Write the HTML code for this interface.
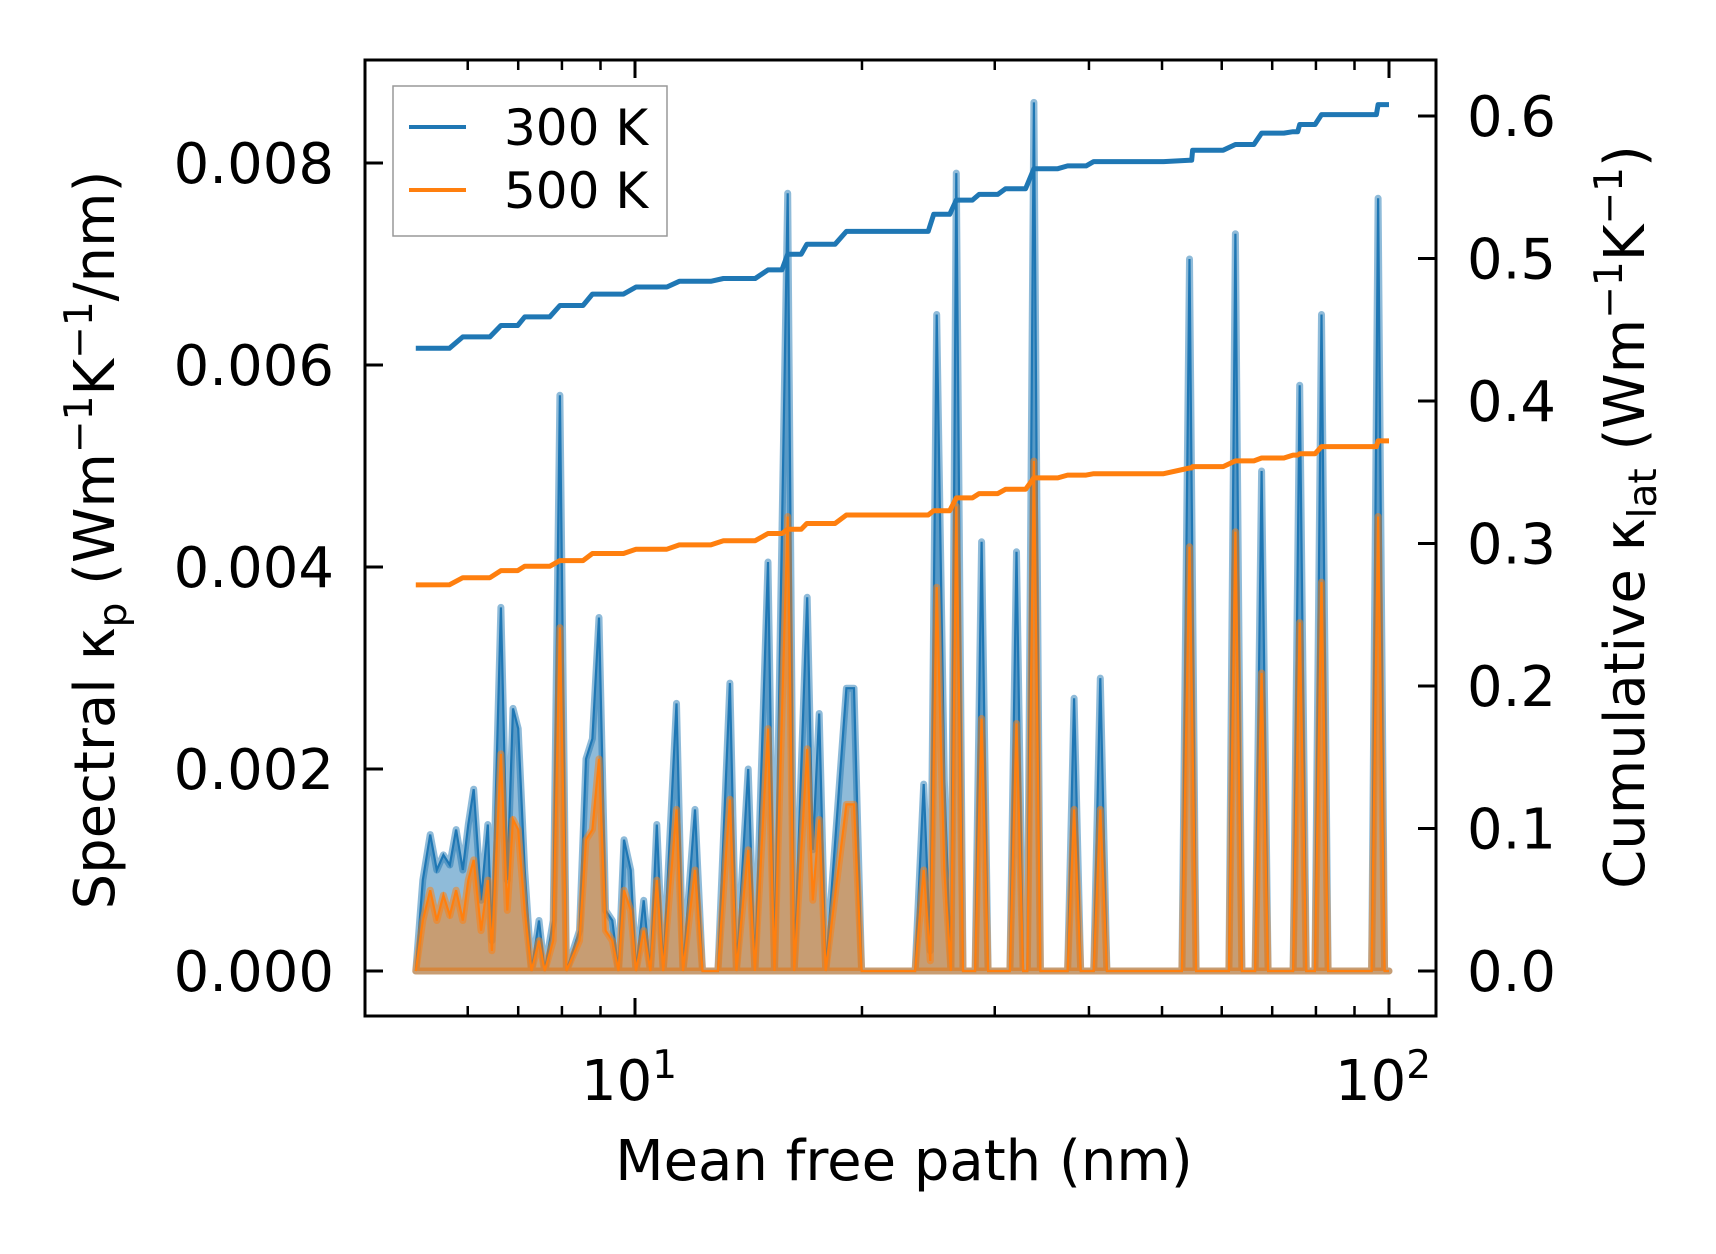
<!DOCTYPE html>
<html><head><meta charset="utf-8"><style>
html,body{margin:0;padding:0;background:#fff;}
svg{display:block;font-family:"DejaVu Sans","Liberation Sans",sans-serif;}
</style></head><body>
<svg id="chart" width="1716" height="1254" viewBox="0 0 1716 1254" xmlns="http://www.w3.org/2000/svg">
<rect width="1716" height="1254" fill="#fff"/>
<g id="spec"></g><g id="cum"></g><g id="axes"></g>
<g>
<rect x="393" y="86" width="274" height="150" fill="#fff" fill-opacity="0.8" stroke="#999" stroke-width="1.5"/>
<line x1="409" y1="127" x2="466" y2="127" stroke="#1f77b4" stroke-width="4"/>
<text x="504" y="145" font-size="50">300 K</text>
<line x1="409" y1="190" x2="466" y2="190" stroke="#ff7f0e" stroke-width="4"/>
<text x="504" y="208" font-size="50">500 K</text>
</g>
<text x="904" y="1180" font-size="56" text-anchor="middle">Mean free path (nm)</text>
<text transform="translate(114,540) rotate(-90)" font-size="56" text-anchor="middle">Spectral κ<tspan font-size="39" dy="12">p</tspan><tspan dy="-12"> (Wm</tspan><tspan font-size="39" dy="-22">−1</tspan><tspan dy="22">K</tspan><tspan font-size="39" dy="-22">−1</tspan><tspan dy="22">/nm)</tspan></text>
<text transform="translate(1644,517) rotate(-90)" font-size="56" text-anchor="middle">Cumulative κ<tspan font-size="39" dy="12">lat</tspan><tspan dy="-12"> (Wm</tspan><tspan font-size="39" dy="-22">−1</tspan><tspan dy="22">K</tspan><tspan font-size="39" dy="-22">−1</tspan><tspan dy="22">)</tspan></text>
</svg>
<script>
const mfp = [5.12,5.23,5.35,5.46,5.57,5.68,5.79,5.91,6.01,6.11,6.19,6.25,6.38,6.46,6.64,6.77,6.89,7.00,7.14,7.29,7.46,7.59,7.79,7.95,8.11,8.44,8.61,8.78,8.96,9.14,9.33,9.51,9.67,9.87,10.03,10.27,10.48,10.69,10.90,11.35,11.58,12.01,12.29,12.88,13.36,13.63,14.13,14.42,15.01,15.31,15.94,16.26,16.92,17.21,17.55,17.90,19.07,19.52,19.98,23.52,24.15,24.64,25.13,25.72,26.24,26.68,27.23,28.25,28.82,29.40,31.42,32.06,32.71,33.14,33.81,34.49,37.47,38.23,39.00,40.59,41.41,42.25,53.13,54.38,55.48,61.32,62.56,63.82,66.43,67.76,69.13,74.62,76.13,77.67,79.76,81.38,83.02,94.83,96.72,98.68,100];
const spec300 = [0,0.9,1.35,1.0,1.15,1.05,1.4,1.0,1.45,1.8,1.2,0.7,1.45,0.3,3.6,0.9,2.6,2.4,1.0,0,0.5,0,0.5,5.7,0,0.4,2.1,2.3,3.5,0.6,0.5,0,1.3,1.0,0,0.7,0,1.45,0,2.65,0,1.6,0,0,2.85,0,2.0,0,4.05,0,7.7,0,3.7,1.2,2.55,0,2.8,2.8,0,0,1.85,0.2,6.5,1.9,0,7.9,0,0,4.25,0,0,4.15,0,0,8.6,0,0,2.7,0,0,2.9,0,0,7.05,0,0,7.3,0,0,4.95,0,0,5.8,0,0,6.5,0,0,7.65,0,0];
const spec500 = [0,0.5,0.8,0.5,0.75,0.55,0.8,0.5,0.9,1.1,0.7,0.4,0.9,0.2,2.15,0.6,1.5,1.4,0.6,0,0.3,0,0.3,3.4,0,0.3,1.3,1.4,2.1,0.4,0.3,0,0.8,0.6,0,0.4,0,0.9,0,1.6,0,1.0,0,0,1.7,0,1.2,0,2.4,0,4.5,0,2.2,0.7,1.5,0,1.65,1.65,0,0,1.0,0.1,3.8,1.0,0,4.6,0,0,2.5,0,0,2.45,0,0,5.05,0,0,1.6,0,0,1.6,0,0,4.2,0,0,4.35,0,0,2.95,0,0,3.45,0,0,3.85,0,0,4.5,0,0];
const cumX = [5.12,5.91,6.64,7.14,7.95,8.78,10.03,11.45,13.1,15.01,15.94,16.9,19.07,23.52,24.9,26.68,28.6,31.0,33.81,37.47,40.59,54.38,54.9,62.56,67.76,74.6,76.13,81.38,95.1,96.72,100];
const cum300 = [0.437,0.445,0.453,0.459,0.467,0.475,0.480,0.484,0.486,0.492,0.503,0.510,0.519,0.519,0.531,0.541,0.545,0.549,0.563,0.565,0.568,0.569,0.576,0.580,0.588,0.589,0.594,0.601,0.601,0.608,0.608];
const cum500 = [0.271,0.276,0.281,0.284,0.288,0.293,0.296,0.299,0.302,0.307,0.310,0.314,0.320,0.320,0.323,0.332,0.335,0.338,0.346,0.348,0.349,0.353,0.354,0.358,0.360,0.362,0.363,0.368,0.368,0.372,0.372];
const yLeftTicks = ["0.000","0.002","0.004","0.006","0.008"];
const yRightTicks = ["0.0","0.1","0.2","0.3","0.4","0.5","0.6"];

const NS="http://www.w3.org/2000/svg";
const L=365,R=1436,T=60,B=1016;
const X=v=>635+Math.log10(v/10)*754;
const YL=v=>971-v*101;
const YR=v=>971-v*(971-116)/0.6;
function mk(tag,attrs,parent){const e=document.createElementNS(NS,tag);for(const k in attrs)e.setAttribute(k,attrs[k]);parent.appendChild(e);return e;}
const spec=document.getElementById('spec'),cum=document.getElementById('cum'),axes=document.getElementById('axes');

function area(vals,color,name){
  let pts=mfp.map((m,i)=>X(m).toFixed(1)+','+YL(vals[i]).toFixed(1));
  const d='M'+X(mfp[0])+','+YL(0)+' L'+pts.join(' L')+' L'+X(mfp[mfp.length-1])+','+YL(0)+' Z';
  const a=mk('path',{d:d,fill:color,'fill-opacity':0.5,stroke:color,'stroke-opacity':0.5,'stroke-width':7,'stroke-linejoin':'round'},spec);
  
  
  const l=mk('polyline',{points:pts.join(' '),fill:'none',stroke:color,'stroke-width':2.2},spec);
  
  
}
area(spec300,'#1f77b4','spectral-300k');
area(spec500,'#ff7f0e','spectral-500k');

function step(vals,color,name){
  let d='M'+X(cumX[0])+','+YR(vals[0]);
  for(let i=1;i<cumX.length;i++){d+=' L'+X(cumX[i]-(cumX[i]-cumX[i-1])*0.3).toFixed(1)+','+YR(vals[i-1]).toFixed(1)+' L'+X(cumX[i]).toFixed(1)+','+YR(vals[i]).toFixed(1);}
  const p=mk('path',{d:d,fill:'none',stroke:color,'stroke-width':5,'stroke-linejoin':'round'},cum);
  
  
}
step(cum300,'#1f77b4','cumulative-300k');
step(cum500,'#ff7f0e','cumulative-500k');

const frame=mk('rect',{x:L,y:T,width:R-L,height:B-T,fill:'none',stroke:'#000','stroke-width':3},axes);


yLeftTicks.forEach((t,i)=>{const y=YL(i*2);
  mk('line',{x1:L,y1:y,x2:L+18,y2:y,stroke:'#000','stroke-width':3},axes);
  const tx=mk('text',{x:334,y:y+20,'font-size':56,'text-anchor':'end'},axes);tx.textContent=t;
  
  });
yRightTicks.forEach((t,i)=>{const y=YR(i*0.1);
  mk('line',{x1:R-18,y1:y,x2:R,y2:y,stroke:'#000','stroke-width':3},axes);
  const tx=mk('text',{x:1467,y:y+20,'font-size':56},axes);tx.textContent=t;
  
  });
[6,7,8,9,20,30,40,50,60,70,80,90].forEach(v=>{const x=X(v);
  mk('line',{x1:x,y1:B,x2:x,y2:B-10,stroke:'#000','stroke-width':2.5},axes);
  mk('line',{x1:x,y1:T,x2:x,y2:T+10,stroke:'#000','stroke-width':2.5},axes);});
[[10,'1'],[100,'2']].forEach(([v,e])=>{const x=X(v);
  mk('line',{x1:x,y1:B,x2:x,y2:B-18,stroke:'#000','stroke-width':3},axes);
  mk('line',{x1:x,y1:T,x2:x,y2:T+18,stroke:'#000','stroke-width':3},axes);
  const tx=mk('text',{x:x-6,y:1100,'font-size':56,'text-anchor':'middle'},axes);
  tx.innerHTML='10<tspan font-size="39" dy="-22">'+e+'</tspan>';
  
  });
</script>
</body></html>
